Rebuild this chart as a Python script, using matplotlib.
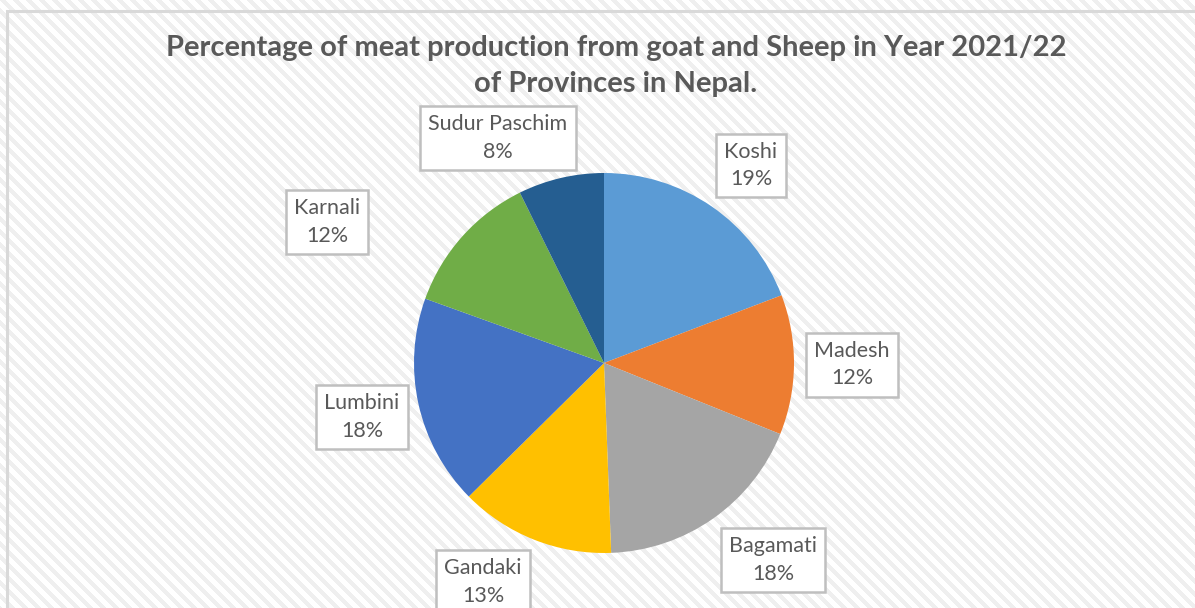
import numpy as np
import matplotlib.pyplot as plt

# province shares (%)
provinces = ['Koshi', 'Madesh', 'Bagamati', 'Gandaki', 'Lumbini', 'Karnali', 'Sudur Paschim']
shares = [19.2, 11.9, 18.3, 13.2, 17.9, 12.2, 7.3]
pct_labels = ['19%', '12%', '18%', '13%', '18%', '12%', '8%']
colors = ['#5B9BD5', '#ED7D31', '#A5A5A5', '#FFC000', '#4472C4', '#70AD47', '#255E91']

# label box centres in pie-radius units (layout only)
label_pos = [(0.774, 1.04), (1.305, -0.01), (0.889, -1.037), (-0.637, -1.153),
             (-1.274, -0.284), (-1.458, 0.742), (-0.558, 1.184)]

W, H = 1195, 608
cx, cy, R = 604, 363, 190

fig = plt.figure(figsize=(W/100, H/100), dpi=100)

# striped background
bg = fig.add_axes([0, 0, 1, 1])
yy, xx = np.mgrid[0:H, 0:W]
stripes = ((xx - yy) % 13) < 6
img = np.where(stripes, 0.94, 1.0)
bg.imshow(np.dstack([img, img, img]), extent=(0, W, H, 0), aspect='auto', interpolation='bilinear')
bg.set_xlim(0, W)
bg.set_ylim(H, 0)
bg.axis('off')
bg.plot([7, 7, W + 5], [H + 5, 11, 11], color='#D9D9D9', lw=2.2, solid_joinstyle='miter')

ax = fig.add_axes([0, 0, 1, 1])
ax.patch.set_alpha(0)
ax.pie(shares, colors=colors, startangle=90, counterclock=False, radius=1,
       wedgeprops=dict(linewidth=0))
ax.set_aspect('auto')
ax.set_xlim(-cx/R, (W - cx)/R)
ax.set_ylim((cy - H)/R, cy/R)
ax.axis('off')

for name, pct, (lx, ly) in zip(provinces, pct_labels, label_pos):
    ax.text(lx, ly, name + '\n' + pct, ha='center', va='center', fontsize=15.5,
            family='Lato', color='#595959', linespacing=1.45,
            bbox=dict(boxstyle='square,pad=0.38', fc='white', ec='#BFBFBF', lw=1.8))

fig.text(616/W, 1 - 66/H, 'Percentage of meat production from goat and Sheep in Year 2021/22\nof Provinces in Nepal.',
         ha='center', va='center', fontsize=21, fontweight='bold', family='Lato',
         color='#595959', linespacing=1.5)

fig.savefig('out.png', dpi=100)
